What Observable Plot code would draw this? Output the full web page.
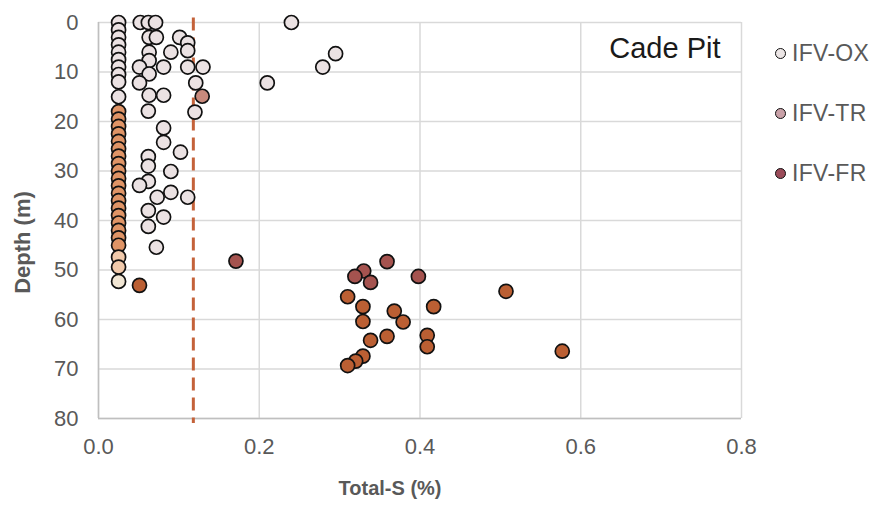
<!DOCTYPE html>
<html>
<head>
<meta charset="utf-8">
<script src="https://cdn.jsdelivr.net/npm/d3@7"></script>
<script src="https://cdn.jsdelivr.net/npm/@observablehq/plot@0.6"></script>
<style>
  html, body { margin: 0; padding: 0; background: #fff; }
  #wrap { position: relative; width: 877px; height: 506px; font-family: "Liberation Sans", Arial, sans-serif; }
  #legend { position: absolute; left: 775px; top: 40px; color: #595959; font-size: 23px; letter-spacing: 0.3px; }
  #legend .row { display: flex; align-items: center; height: 26px; margin-bottom: 34px; }
  #legend .sw { width: 9px; height: 9px; border-radius: 50%; border: 1.7px solid #111; margin-right: 6px; box-sizing: content-box; }
</style>
</head>
<body>
<div id="wrap"><div id="chart"></div><div id="legend"></div></div>
<script>
// ---- data (Total-S %, depth m) ----
const seriesNames = ["IFV-OX", "IFV-TR", "IFV-FR"];

// IFV-OX (light)
const oxS = [0.025,0.025,0.025,0.025,0.025,0.025,0.025,0.025,0.025,0.025,
  0.052,0.062,0.071,0.240,
  0.063,0.072,0.101,0.111,0.111,
  0.063,0.090,0.295,0.063,
  0.051,0.081,0.111,0.130,0.279,0.063,
  0.051,0.121,0.210,
  0.063,0.081,
  0.062,0.120,
  0.081,0.081,0.102,0.062,0.062,0.090,0.062,0.051,
  0.090,0.073,0.111,0.062,0.081,0.062,0.072];
const oxDepth = [0,1.5,3,4.5,6,7.5,9,10.5,12,15,
  0,0,0,0,
  3,3,3,4.1,5.7,
  6,6,6.3,7.7,
  9,9,9,9,9,10.4,
  12.2,12.2,12.2,
  14.7,14.7,
  17.9,18.1,
  21.3,24.2,26.2,27.1,29.0,30.1,32.1,32.9,
  34.3,35.3,35.3,38,39.3,41.2,45.4];

// IFV-TR (transition)
const trS = [0.025,0.025,0.025,0.025,0.025,0.025,0.025,0.025,0.025,0.025,
  0.025,0.025,0.025,0.025,0.025,0.025,0.025,0.025,0.025];
const trDepth = [18,19.5,21,22.5,24,25.5,27,28.5,30,31.5,
  33,34.5,36,37.5,39,40.5,42,43.5,45];
const trPaleS = [0.129,0.025,0.025,0.025];
const trPaleDepth = [14.9,47.4,49.4,52.3];

// IFV-FR (fresh)
const frUpperS = [0.171,0.359,0.330,0.319,0.3385,0.398];
const frUpperDepth = [48.2,48.3,50.2,51.3,52.5,51.3];
const frS = [0.051,0.310,0.507,0.329,0.417,0.368,0.379,0.329,0.359,0.409,0.409,0.3385,0.329,0.320,0.310,0.577];
const frDepth = [53.1,55.4,54.3,57.4,57.4,58.3,60.5,60.4,63.4,63.2,65.5,64.2,67.4,68.4,69.3,66.4];

const threshold = 0.118;
const xTicks = [0, 0.2, 0.4, 0.6, 0.8];
const yTicks = [0, 10, 20, 30, 40, 50, 60, 70, 80];

// ---- build rows ----
function rows(s, d, group) { return s.map((v, i) => ({s: v, depth: d[i], group})); }
const points = [
  ...rows(oxS, oxDepth, "ox"),
  ...rows(trS, trDepth, "tr"),
  ...rows(trPaleS.slice(0,1), trPaleDepth.slice(0,1), "trmid"),
  ...rows(trPaleS.slice(1,3), trPaleDepth.slice(1,3), "trpale"),
  ...rows(trPaleS.slice(3), trPaleDepth.slice(3), "cream"),
  ...rows(frUpperS, frUpperDepth, "frup"),
  ...rows(frS, frDepth, "fr")
];
const groupDomain = ["ox", "tr", "trmid", "trpale", "cream", "frup", "fr"];
const groupColors = ["#ebe2e3", "#df9466", "#c98a7c", "#f0c9ab", "#f1e6d4", "#a5534f", "#bb5f33"];

const font = "Liberation Sans, Arial, sans-serif";
const chart = Plot.plot({
  width: 877, height: 506,
  marginLeft: 98, marginRight: 136, marginTop: 22, marginBottom: 88,
  style: {fontFamily: font, fontSize: "22px", color: "#595959", background: "#fff"},
  x: {domain: [0, 0.8], ticks: xTicks, tickFormat: d3.format(".1f"), label: null},
  y: {domain: [0, 80], reverse: true, ticks: yTicks, label: null},
  color: {type: "ordinal", domain: groupDomain, range: groupColors},
  marks: [
    Plot.gridX(xTicks, {stroke: "#d9d9d9", strokeOpacity: 1, strokeWidth: 1.5}),
    Plot.gridY(yTicks, {stroke: "#d9d9d9", strokeOpacity: 1, strokeWidth: 1.5}),
    Plot.ruleX([0], {stroke: "#bfbfbf", strokeWidth: 1.5}),
    Plot.ruleY([80], {stroke: "#bfbfbf", strokeWidth: 1.5}),
    Plot.axisX(xTicks, {tickSize: 0, tickPadding: 20, fontSize: 22, fill: "#595959", tickFormat: d3.format(".1f")}),
    Plot.axisY(yTicks, {tickSize: 0, tickPadding: 20, fontSize: 22, fill: "#595959"}),
    Plot.ruleX([threshold], {y1: -0.9, y2: 81, stroke: "#c4623a", strokeWidth: 3, strokeDasharray: "13,7", clip: false}),
    Plot.dot(points, {x: "s", y: "depth", r: 7, fill: "group", stroke: "#111", strokeWidth: 1.7}),
    Plot.text(["Cade Pit"], {frameAnchor: "top-right", dx: -21, dy: 15, textAnchor: "end", lineAnchor: "top", fontSize: 29, fill: "#1a1a1a"}),
    Plot.text(["Depth (m)"], {frameAnchor: "left", textAnchor: "middle", lineAnchor: "middle", dx: -76, dy: 22, rotate: -90, fontSize: 22, fontWeight: "bold", fill: "#595959"}),
    Plot.text(["Total-S (%)"], {frameAnchor: "bottom", dx: -30, dy: 76, fontSize: 20, fontWeight: "bold", fill: "#595959"})
  ]
});
document.getElementById("chart").appendChild(chart);

// legend
const legendColors = ["#ece6e6", "#c9a1a8", "#9b4c5a"];
const lg = document.getElementById("legend");
seriesNames.forEach((name, i) => {
  const row = document.createElement("div");
  row.className = "row";
  const sw = document.createElement("span");
  sw.className = "sw";
  sw.style.background = legendColors[i];
  const t = document.createElement("span");
  t.textContent = name;
  row.appendChild(sw); row.appendChild(t);
  lg.appendChild(row);
});
</script>
</body>
</html>
